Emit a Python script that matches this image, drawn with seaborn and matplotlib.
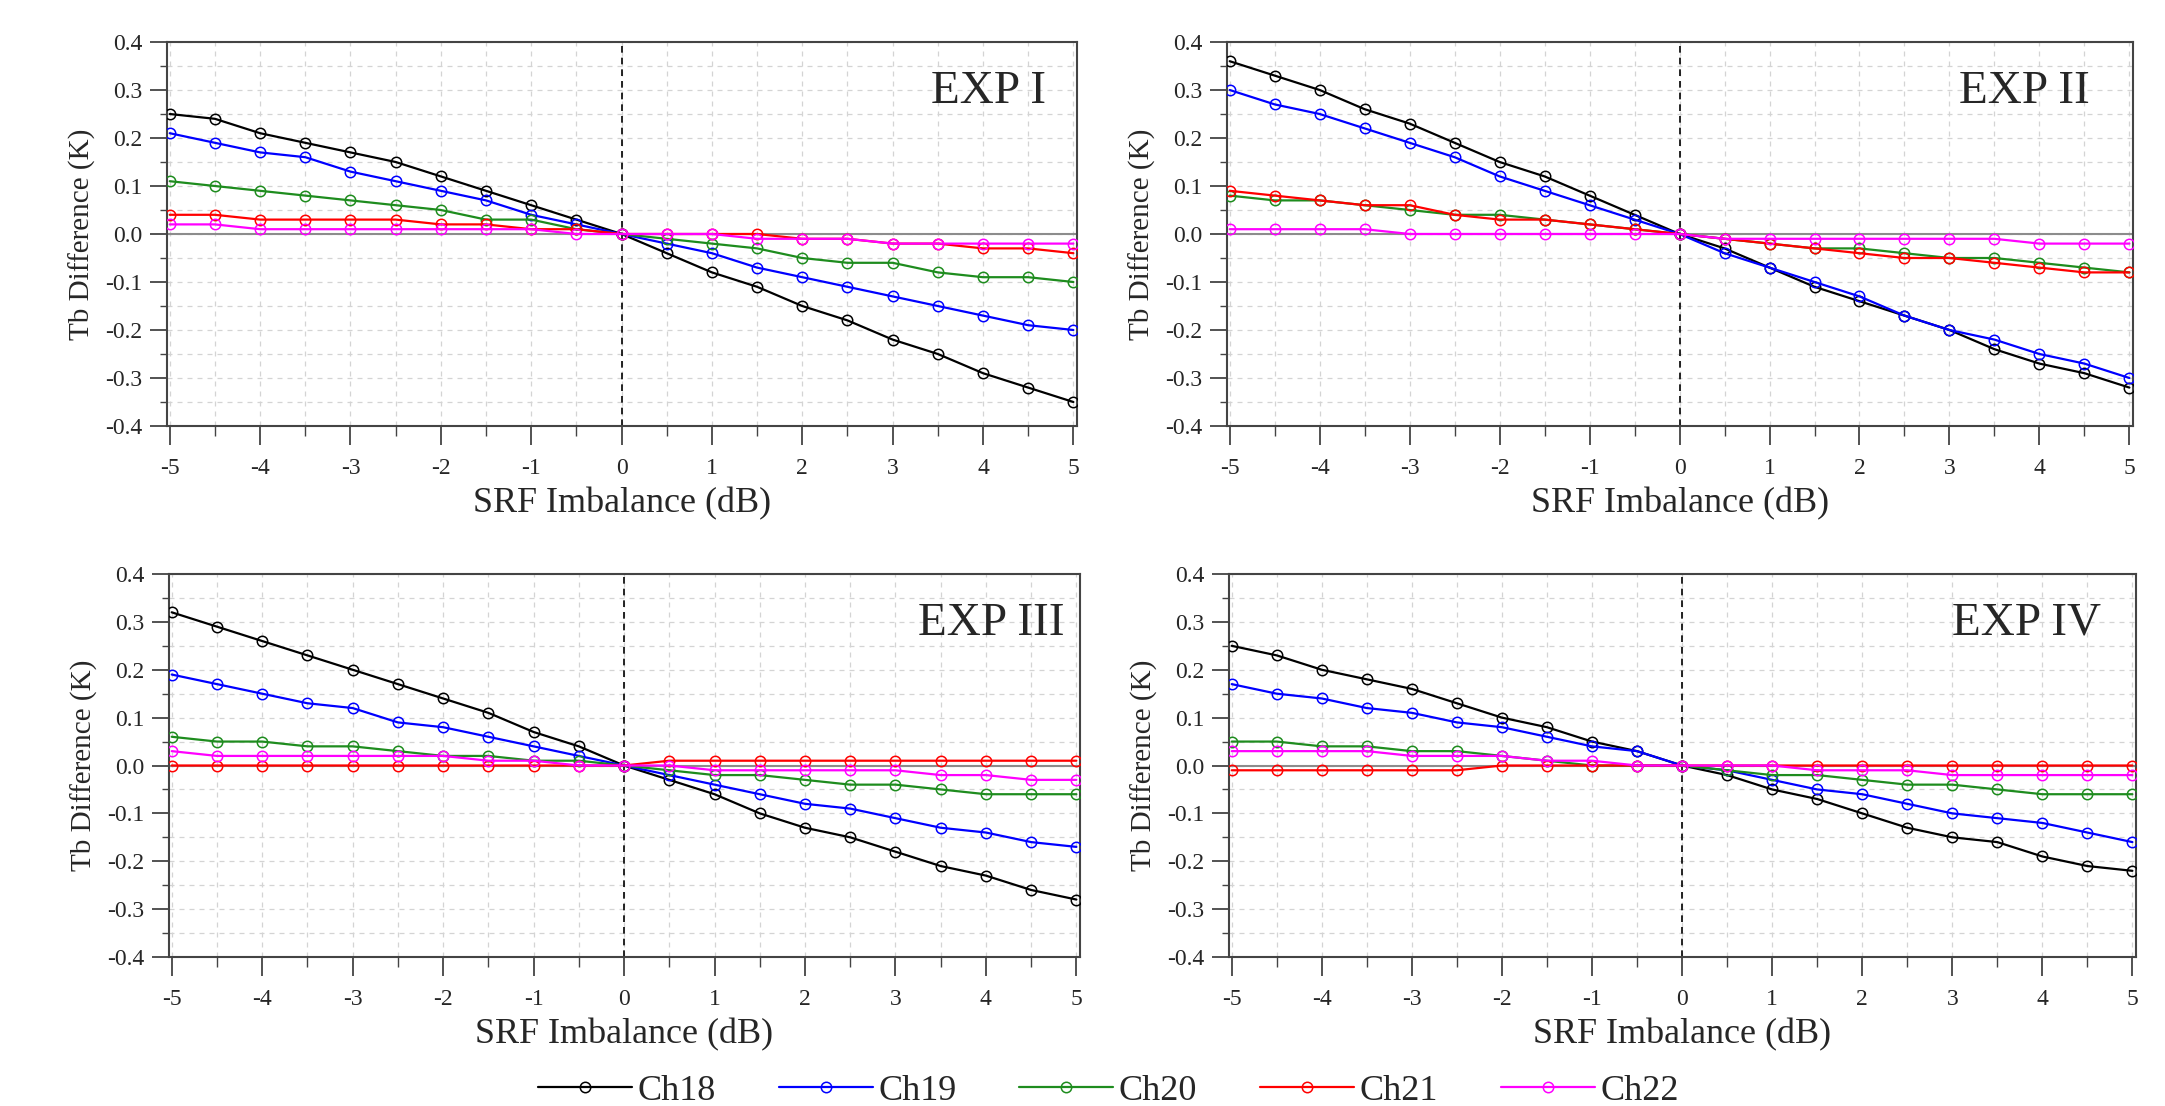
"""SRF imbalance sensitivity: Tb difference per channel for four experiments."""
import matplotlib
matplotlib.use("Agg")
import matplotlib.pyplot as plt
from matplotlib.ticker import MultipleLocator, FormatStrFormatter
import seaborn as sns

sns.set_style("white")
plt.rcParams["font.family"] = ["Liberation Serif", "DejaVu Serif"]
plt.rcParams["axes.unicode_minus"] = False

# SRF imbalance (dB)
x_db = [-5, -4.5, -4, -3.5, -3, -2.5, -2, -1.5, -1, -0.5, 0,
        0.5, 1, 1.5, 2, 2.5, 3, 3.5, 4, 4.5, 5]

channels = ["Ch18", "Ch19", "Ch20", "Ch21", "Ch22"]
colors = {"Ch18": "#000000", "Ch19": "#0000ff", "Ch20": "#1e8c1e",
          "Ch21": "#ff0000", "Ch22": "#ff00ff"}

# EXP I
exp1_ch18 = [0.25, 0.24, 0.21, 0.19, 0.17, 0.15, 0.12, 0.09, 0.06, 0.03, 0.0,
             -0.04, -0.08, -0.11, -0.15, -0.18, -0.22, -0.25, -0.29, -0.32, -0.35]
exp1_ch19 = [0.21, 0.19, 0.17, 0.16, 0.13, 0.11, 0.09, 0.07, 0.04, 0.02, 0.0,
             -0.02, -0.04, -0.07, -0.09, -0.11, -0.13, -0.15, -0.17, -0.19, -0.20]
exp1_ch20 = [0.11, 0.10, 0.09, 0.08, 0.07, 0.06, 0.05, 0.03, 0.03, 0.01, 0.0,
             -0.01, -0.02, -0.03, -0.05, -0.06, -0.06, -0.08, -0.09, -0.09, -0.10]
exp1_ch21 = [0.04, 0.04, 0.03, 0.03, 0.03, 0.03, 0.02, 0.02, 0.01, 0.01, 0.0,
             0.0, 0.0, 0.0, -0.01, -0.01, -0.02, -0.02, -0.03, -0.03, -0.04]
exp1_ch22 = [0.02, 0.02, 0.01, 0.01, 0.01, 0.01, 0.01, 0.01, 0.01, 0.0, 0.0,
             0.0, 0.0, -0.01, -0.01, -0.01, -0.02, -0.02, -0.02, -0.02, -0.02]

# EXP II
exp2_ch18 = [0.36, 0.33, 0.30, 0.26, 0.23, 0.19, 0.15, 0.12, 0.08, 0.04, 0.0,
             -0.03, -0.07, -0.11, -0.14, -0.17, -0.20, -0.24, -0.27, -0.29, -0.32]
exp2_ch19 = [0.30, 0.27, 0.25, 0.22, 0.19, 0.16, 0.12, 0.09, 0.06, 0.03, 0.0,
             -0.04, -0.07, -0.10, -0.13, -0.17, -0.20, -0.22, -0.25, -0.27, -0.30]
exp2_ch20 = [0.08, 0.07, 0.07, 0.06, 0.05, 0.04, 0.04, 0.03, 0.02, 0.01, 0.0,
             -0.01, -0.02, -0.03, -0.03, -0.04, -0.05, -0.05, -0.06, -0.07, -0.08]
exp2_ch21 = [0.09, 0.08, 0.07, 0.06, 0.06, 0.04, 0.03, 0.03, 0.02, 0.01, 0.0,
             -0.01, -0.02, -0.03, -0.04, -0.05, -0.05, -0.06, -0.07, -0.08, -0.08]
exp2_ch22 = [0.01, 0.01, 0.01, 0.01, 0.0, 0.0, 0.0, 0.0, 0.0, 0.0, 0.0,
             -0.01, -0.01, -0.01, -0.01, -0.01, -0.01, -0.01, -0.02, -0.02, -0.02]

# EXP III
exp3_ch18 = [0.32, 0.29, 0.26, 0.23, 0.20, 0.17, 0.14, 0.11, 0.07, 0.04, 0.0,
             -0.03, -0.06, -0.10, -0.13, -0.15, -0.18, -0.21, -0.23, -0.26, -0.28]
exp3_ch19 = [0.19, 0.17, 0.15, 0.13, 0.12, 0.09, 0.08, 0.06, 0.04, 0.02, 0.0,
             -0.02, -0.04, -0.06, -0.08, -0.09, -0.11, -0.13, -0.14, -0.16, -0.17]
exp3_ch20 = [0.06, 0.05, 0.05, 0.04, 0.04, 0.03, 0.02, 0.02, 0.01, 0.01, 0.0,
             -0.01, -0.02, -0.02, -0.03, -0.04, -0.04, -0.05, -0.06, -0.06, -0.06]
exp3_ch21 = [0.0, 0.0, 0.0, 0.0, 0.0, 0.0, 0.0, 0.0, 0.0, 0.0, 0.0,
             0.01, 0.01, 0.01, 0.01, 0.01, 0.01, 0.01, 0.01, 0.01, 0.01]
exp3_ch22 = [0.03, 0.02, 0.02, 0.02, 0.02, 0.02, 0.02, 0.01, 0.01, 0.0, 0.0,
             0.0, -0.01, -0.01, -0.01, -0.01, -0.01, -0.02, -0.02, -0.03, -0.03]

# EXP IV
exp4_ch18 = [0.25, 0.23, 0.20, 0.18, 0.16, 0.13, 0.10, 0.08, 0.05, 0.03, 0.0,
             -0.02, -0.05, -0.07, -0.10, -0.13, -0.15, -0.16, -0.19, -0.21, -0.22]
exp4_ch19 = [0.17, 0.15, 0.14, 0.12, 0.11, 0.09, 0.08, 0.06, 0.04, 0.03, 0.0,
             -0.01, -0.03, -0.05, -0.06, -0.08, -0.10, -0.11, -0.12, -0.14, -0.16]
exp4_ch20 = [0.05, 0.05, 0.04, 0.04, 0.03, 0.03, 0.02, 0.01, 0.0, 0.0, 0.0,
             -0.01, -0.02, -0.02, -0.03, -0.04, -0.04, -0.05, -0.06, -0.06, -0.06]
exp4_ch21 = [-0.01, -0.01, -0.01, -0.01, -0.01, -0.01, 0.0, 0.0, 0.0, 0.0, 0.0,
             0.0, 0.0, 0.0, 0.0, 0.0, 0.0, 0.0, 0.0, 0.0, 0.0]
exp4_ch22 = [0.03, 0.03, 0.03, 0.03, 0.02, 0.02, 0.02, 0.01, 0.01, 0.0, 0.0,
             0.0, 0.0, -0.01, -0.01, -0.01, -0.02, -0.02, -0.02, -0.02, -0.02]

experiments = [
    ("EXP I", [exp1_ch18, exp1_ch19, exp1_ch20, exp1_ch21, exp1_ch22]),
    ("EXP II", [exp2_ch18, exp2_ch19, exp2_ch20, exp2_ch21, exp2_ch22]),
    ("EXP III", [exp3_ch18, exp3_ch19, exp3_ch20, exp3_ch21, exp3_ch22]),
    ("EXP IV", [exp4_ch18, exp4_ch19, exp4_ch20, exp4_ch21, exp4_ch22]),
]

W, H = 2165, 1106
# pixel boxes (left, right, top, bottom) of each panel
boxes = [(167, 1077, 42, 426), (1227, 2133, 42, 426),
         (169, 1080, 574, 957), (1229, 2136, 574, 957)]
label_x = [0.903, 0.880, 0.903, 0.879]

fig = plt.figure(figsize=(W / 100, H / 100), dpi=100)
spine_col = "#444444"

for (name, series), (l, r, t, b), lx in zip(experiments, boxes, label_x):
    ax = fig.add_axes([l / W, 1 - b / H, (r - l) / W, (b - t) / H])
    ax.set_axisbelow(True)
    ax.grid(True, which="both", color="#d4d4d4", linestyle=(0, (4, 4)), linewidth=0.9)
    ax.axhline(0, color="#8c8c8c", linewidth=1.5, zorder=1.5)
    ax.axvline(0, color="black", linestyle=(0, (4, 3)), linewidth=1.2, zorder=1.6)

    for ch, vals in zip(channels, series):
        sns.lineplot(x=x_db, y=vals, ax=ax, color=colors[ch], linewidth=1.6,
                     marker="o", markersize=7.5, markerfacecolor="none",
                     markeredgecolor=colors[ch], markeredgewidth=1.1,
                     label=ch, legend=False, zorder=3)

    ax.set_xlim(-5.03, 5.04)
    ax.set_ylim(-0.4, 0.4)
    ax.xaxis.set_major_locator(MultipleLocator(1))
    ax.xaxis.set_minor_locator(MultipleLocator(0.5))
    ax.yaxis.set_major_locator(MultipleLocator(0.1))
    ax.yaxis.set_minor_locator(MultipleLocator(0.05))
    ax.yaxis.set_major_formatter(FormatStrFormatter("%.1f"))
    ax.tick_params(axis="x", which="major", direction="out", length=14, width=1.3,
                   color=spine_col, labelsize=17, pad=9)
    ax.tick_params(axis="x", which="minor", direction="out", length=7, width=1.0,
                   color=spine_col)
    ax.tick_params(axis="y", which="major", direction="out", length=12, width=1.3,
                   color=spine_col, labelsize=17, pad=6)
    ax.tick_params(axis="y", which="minor", direction="out", length=5, width=1.0,
                   color=spine_col)
    ax.tick_params(left=True, bottom=True, which="both")
    for sp in ax.spines.values():
        sp.set_color(spine_col)
        sp.set_linewidth(1.5)

    ax.set_xlabel("SRF Imbalance (dB)", fontsize=26, labelpad=6)
    ax.set_ylabel("Tb Difference (K)", fontsize=21, labelpad=6)
    ax.text(lx, 1 - 61 / 384, name, transform=ax.transAxes, ha="center",
            va="baseline", fontsize=34)

handles, labels = fig.axes[0].get_legend_handles_labels()
fig.legend(handles, labels, loc="center", bbox_to_anchor=(0.512, 0.0136),
           ncol=5, frameon=False, fontsize=26, handlelength=2.6,
           handletextpad=0.15, columnspacing=1.75, borderaxespad=0)

fig.savefig("out.png", dpi=100)
